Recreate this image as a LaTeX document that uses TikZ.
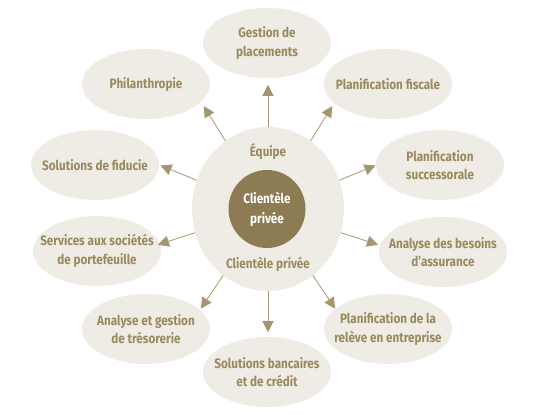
\documentclass[tikz,border=0pt]{standalone}
\usepackage{fontspec}
\setmainfont{Fira Sans}[FakeStretch=0.86]
\usetikzlibrary{shapes.geometric,arrows.meta}
\definecolor{pale}{HTML}{EFECE5}
\definecolor{gold}{HTML}{9A8A5E}
\definecolor{dark}{HTML}{8C7B53}
\definecolor{arr}{HTML}{A4976F}
\tikzset{
  sat/.style={ellipse,fill=pale,minimum width=128pt,minimum height=70pt,inner xsep=-22pt,inner ysep=-8pt,
    text=gold,font=\bfseries\fontsize{13.6}{18.5}\selectfont,align=center},
  lbl/.style={text=gold,font=\bfseries\fontsize{13.6}{18.5}\selectfont,align=center,inner sep=0pt},
  spoke/.style={draw=arr,line width=0.8pt,-{Triangle[length=11pt,width=11pt]},arr}
}
\begin{document}
\begin{tikzpicture}[x=1pt,y=1pt]
\useasboundingbox (0,0) rectangle (542,415);
\node[ellipse,fill=pale,minimum width=152pt,minimum height=164pt,inner sep=0pt] (outer) at (268,206) {};
\node[ellipse,fill=dark,minimum width=77pt,minimum height=78pt,inner sep=-8pt,
  text=white,font=\bfseries\fontsize{13.6}{20}\selectfont,align=center] (inner) at (267,206) {Clientèle\\privée};
\node[lbl] (equipe) at (268,263) {Équipe};
\node[lbl] (cp) at (268,151) {Clientèle privée};

\node[sat] (gest) at (267,372) {Gestion de\\placements};
\node[sat] (fisc) at (388,331) {Planification fiscale};
\node[sat] (succ) at (440,250) {Planification\\successorale};
\node[sat] (assu) at (443,163) {Analyse des besoins\\d’assurance};
\node[sat] (rele) at (388,86) {Planification de la\\relève en entreprise};
\node[sat] (banc) at (267,43) {Solutions bancaires\\et de crédit};
\node[sat] (treso) at (146,86) {Analyse et gestion\\de trésorerie};
\node[sat] (serv) at (97,164) {Services aux sociétés\\de portefeuille};
\node[sat] (fidu) at (95,250) {Solutions de fiducie};
\node[sat] (phil) at (146,331) {Philanthropie};

\draw[spoke] (outer.90) -- ++(90:42) coordinate (tgest);
\draw[spoke] (outer.58) -- ++(58:41) coordinate (tfisc);
\draw[spoke] (outer.22) -- ++(22:39) coordinate (tsucc);
\draw[spoke] (outer.-18) -- ++(-18:39) coordinate (tassu);
\draw[spoke] (outer.-56) -- ++(-56:40) coordinate (trele);
\draw[spoke] (outer.-90) -- ++(-90:41) coordinate (tbanc);
\draw[spoke] (outer.236) -- ++(236:40) coordinate (ttreso);
\draw[spoke] (outer.198) -- ++(198:39) coordinate (tserv);
\draw[spoke] (outer.158) -- ++(158:39) coordinate (tfidu);
\draw[spoke] (outer.122) -- ++(122:41) coordinate (tphil);
\end{tikzpicture}
\end{document}
